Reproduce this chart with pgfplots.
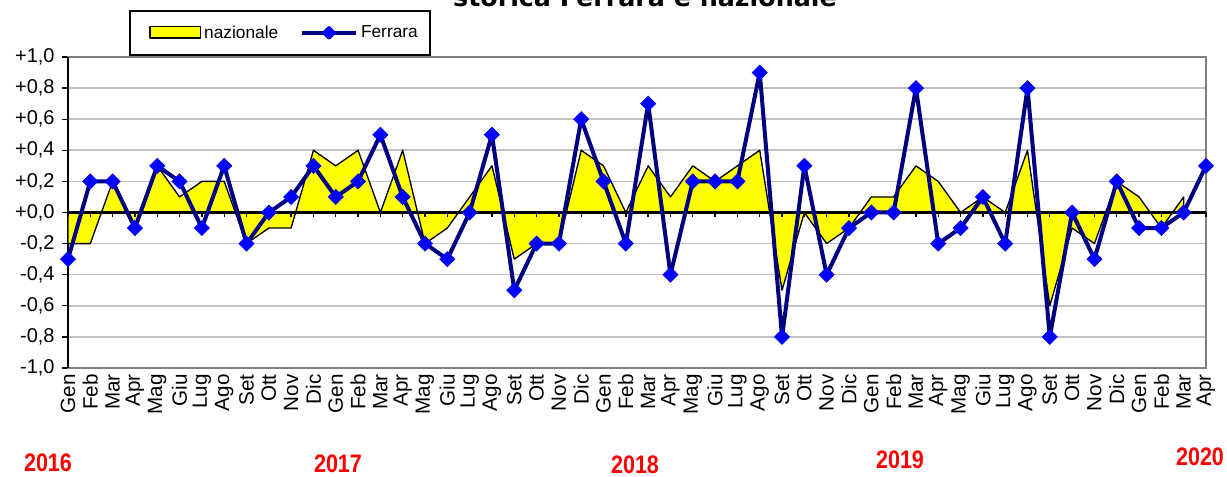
\documentclass[border=0pt]{standalone}
\usepackage{pgfplots}
\pgfplotsset{compat=1.18}
\usepackage{pgfplotstable}
\usepackage{fontspec}
\setmainfont{Liberation Sans}
\newfontfamily\titlefont{DejaVu Sans}
\definecolor{navyline}{HTML}{000080}
\definecolor{mkblue}{HTML}{0000FF}
\definecolor{gridgray}{HTML}{C0C0C0}
\definecolor{framegray}{HTML}{808080}
\definecolor{areayellow}{HTML}{FFFF00}

\pgfplotstableread{
x naz
0 -0.2
1 -0.2
2 0.2
3 -0.1
4 0.3
5 0.1
6 0.2
7 0.2
8 -0.2
9 -0.1
10 -0.1
11 0.4
12 0.3
13 0.4
14 0.0
15 0.4
16 -0.2
17 -0.1
18 0.1
19 0.3
20 -0.3
21 -0.2
22 -0.2
23 0.4
24 0.3
25 0.0
26 0.3
27 0.1
28 0.3
29 0.2
30 0.3
31 0.4
32 -0.5
33 0.0
34 -0.2
35 -0.1
36 0.1
37 0.1
38 0.3
39 0.2
40 0.0
41 0.1
42 0.0
43 0.4
44 -0.6
45 -0.1
46 -0.2
47 0.2
48 0.1
49 -0.1
50 0.1
}\naztable

\pgfplotstableread{
x fer
0 -0.3
1 0.2
2 0.2
3 -0.1
4 0.3
5 0.2
6 -0.1
7 0.3
8 -0.2
9 0.0
10 0.1
11 0.3
12 0.1
13 0.2
14 0.5
15 0.1
16 -0.2
17 -0.3
18 0.0
19 0.5
20 -0.5
21 -0.2
22 -0.2
23 0.6
24 0.2
25 -0.2
26 0.7
27 -0.4
28 0.2
29 0.2
30 0.2
31 0.9
32 -0.8
33 0.3
34 -0.4
35 -0.1
36 0.0
37 0.0
38 0.8
39 -0.2
40 -0.1
41 0.1
42 -0.2
43 0.8
44 -0.8
45 0.0
46 -0.3
47 0.2
48 -0.1
49 -0.1
50 0.0
51 0.3
}\fertable

\begin{document}
\begin{tikzpicture}
\begin{axis}[
  at={(0pt,0pt)}, anchor=south west,
  scale only axis, width=853.5pt, height=233.25pt,
  clip=false,
  xmin=0, xmax=51, ymin=-1, ymax=1,
  xtick={0,...,51},
  xticklabels={Gen,Feb,Mar,Apr,Mag,Giu,Lug,Ago,Set,Ott,Nov,Dic,
               Gen,Feb,Mar,Apr,Mag,Giu,Lug,Ago,Set,Ott,Nov,Dic,
               Gen,Feb,Mar,Apr,Mag,Giu,Lug,Ago,Set,Ott,Nov,Dic,
               Gen,Feb,Mar,Apr,Mag,Giu,Lug,Ago,Set,Ott,Nov,Dic,
               Gen,Feb,Mar,Apr},
  xticklabel style={rotate=90, anchor=east, inner sep=0pt, font=\fontsize{15.5}{15.5}\selectfont},
  xtick style={draw=none},
  ytick={-1,-0.8,-0.6,-0.4,-0.2,0,0.2,0.4,0.6,0.8,1},
  yticklabels={{-1,0},{-0,8},{-0,6},{-0,4},{-0,2},{+0,0},{+0,2},{+0,4},{+0,6},{+0,8},{+1,0}},
  yticklabel style={font=\fontsize{15}{15}\selectfont, xshift=-2pt},
  ytick pos=left, xtick pos=bottom,
  tick align=outside,
  major tick length=4.5pt,
  ytick style={black, line width=1pt},
  ymajorgrids, grid style={gridgray, line width=1.2pt},
  axis line style={framegray, line width=1.5pt},
  legend columns=2,
  legend cell align=left,
  legend style={at={(axis description cs:0.0536,1.151)}, anchor=north west,
    draw=black, line width=1.2pt, fill=white,
    font=\fontsize{13}{13}\selectfont,
    inner xsep=7pt, inner ysep=9pt,
    /tikz/every even column/.append style={column sep=14pt}},
]
\draw[black, line width=1.5pt] (rel axis cs:0,0) -- (rel axis cs:0,1);
\addplot[fill=areayellow, draw=black, line width=1pt, line join=round,
  legend image code/.code={\path[draw=none, fill=none] (0pt,-4.5pt) rectangle (46.75pt,5pt);
    \draw[fill=areayellow,draw=black,line width=1pt] (8.25pt,-4pt) rectangle (46.25pt,4.5pt);}]
  table[x=x, y=naz] {\naztable} \closedcycle;
\addlegendentry{nazionale}
\draw[black, line width=1.8pt] (axis cs:0,0) -- (axis cs:51,0);
\pgfplotsinvokeforeach{0,...,51}{\draw[black, line width=1pt] (axis cs:#1,0) -- (axis cs:#1,-0.03);}
\addplot[navyline, line width=3pt, line join=round, mark=square*, mark size=4pt,
  mark options={mkblue, draw=mkblue, rotate=45, line width=0.5pt, line join=miter},
  legend image code/.code={\draw[navyline,line width=3pt] (0pt,0pt) -- (41pt,0pt);
    \fill[mkblue] (20.5pt,0pt) +(0,3.5pt) -- +(3.5pt,0) -- +(0,-3.5pt) -- +(-3.5pt,0) -- cycle;}]
  table[x=x, y=fer] {\fertable};
\addlegendentry{Ferrara}
\end{axis}
\node[anchor=base, font=\titlefont\bfseries\fontsize{19}{19}\selectfont] at (432.75pt,270.75pt) {storica Ferrara e nazionale};
\node[red, inner sep=0pt, font=\bfseries\fontsize{19}{19}\selectfont, xscale=0.85] at (-15pt,-71pt) {2016};
\node[red, inner sep=0pt, font=\bfseries\fontsize{19}{19}\selectfont, xscale=0.85] at (202.5pt,-72pt) {2017};
\node[red, inner sep=0pt, font=\bfseries\fontsize{19}{19}\selectfont, xscale=0.85] at (425.25pt,-72.5pt) {2018};
\node[red, inner sep=0pt, font=\bfseries\fontsize{19}{19}\selectfont, xscale=0.85] at (624pt,-69pt) {2019};
\node[red, inner sep=0pt, font=\bfseries\fontsize{19}{19}\selectfont, xscale=0.85] at (849pt,-66.75pt) {2020};
\pgfresetboundingbox
\path[use as bounding box] (-51pt,-81.75pt) rectangle (869.25pt,276pt);
\end{tikzpicture}
\end{document}
